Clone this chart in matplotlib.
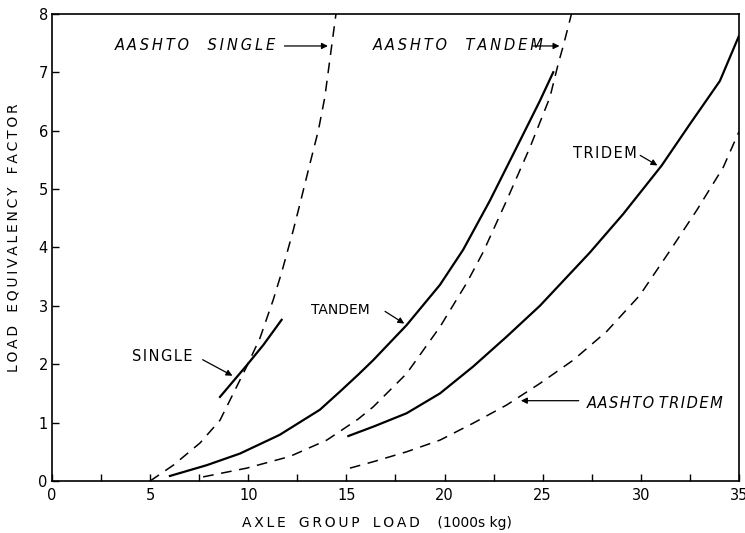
import matplotlib
matplotlib.use("Agg")
import matplotlib.pyplot as plt
from matplotlib.ticker import MultipleLocator

# curves (x = axle group load, 1000s kg; y = load equivalency factor)
single_x = [8.56, 9.92, 10.77, 11.7]
single_y = [1.44, 1.98, 2.33, 2.76]

aashto_single_x = [5.0, 6.18, 7.54, 8.56, 9.24, 9.92, 10.6, 11.27, 11.7, 12.29, 12.63, 13.14, 13.57, 13.9, 14.25, 14.47]
aashto_single_y = [0.0, 0.27, 0.65, 1.04, 1.5, 1.96, 2.45, 3.1, 3.57, 4.29, 4.74, 5.43, 6.0, 6.57, 7.45, 8.0]

tandem_x = [6.01, 7.88, 9.58, 11.6, 13.65, 14.67, 15.6, 16.37, 18.07, 19.77, 20.95, 22.31, 23.67, 24.86, 25.54]
tandem_y = [0.086, 0.27, 0.47, 0.79, 1.22, 1.53, 1.82, 2.07, 2.67, 3.36, 3.96, 4.8, 5.71, 6.51, 7.0]

aashto_tandem_x = [7.7, 9.92, 12.12, 14.0, 14.67, 15.6, 16.37, 18.07, 19.77, 21.13, 21.97, 23.16, 24.35, 25.37, 25.79, 26.05, 26.47]
aashto_tandem_y = [0.07, 0.22, 0.42, 0.7, 0.85, 1.06, 1.27, 1.84, 2.64, 3.39, 3.92, 4.8, 5.71, 6.57, 7.14, 7.45, 8.0]

tridem_x = [15.1, 16.37, 18.07, 19.77, 21.46, 23.16, 24.86, 27.4, 29.1, 31.06, 32.5, 34.03, 35.0]
tridem_y = [0.77, 0.93, 1.16, 1.5, 1.96, 2.47, 3.0, 3.91, 4.57, 5.4, 6.11, 6.85, 7.62]

aashto_tridem_x = [15.18, 16.37, 18.07, 19.77, 21.46, 23.16, 24.86, 26.56, 28.26, 29.95, 31.48, 32.84, 34.2, 35.0]
aashto_tridem_y = [0.22, 0.33, 0.5, 0.7, 0.99, 1.3, 1.67, 2.07, 2.56, 3.18, 3.94, 4.63, 5.37, 5.98]

x_ticks = [0, 5, 10, 15, 20, 25, 30, 35]
y_ticks = [0, 1, 2, 3, 4, 5, 6, 7, 8]


def spaced(word, sep="\u2009"):
    # letter-spaced lettering like the stencil text of the original
    return sep.join(word)


fig = plt.figure(figsize=(7.45, 5.33), dpi=100)
ax = fig.add_axes([0.0698, 0.0976, 0.922, 0.8764])

solid = dict(color="black", lw=1.6)
dashed = dict(color="black", lw=1.1, dashes=(7, 5))

ax.plot(single_x, single_y, **solid)
ax.plot(tandem_x, tandem_y, **solid)
ax.plot(tridem_x, tridem_y, **solid)
ax.plot(aashto_single_x, aashto_single_y, **dashed)
ax.plot(aashto_tandem_x, aashto_tandem_y, **dashed)
ax.plot(aashto_tridem_x, aashto_tridem_y, **dashed)

ax.set_xlim(0, 35)
ax.set_ylim(0, 8)
ax.set_xticks(x_ticks)
ax.set_yticks(y_ticks)
ax.xaxis.set_minor_locator(MultipleLocator(2.5))
ax.tick_params(direction="in", length=5, width=1, labelsize=10.5)
ax.tick_params(axis="x", which="minor", direction="in", length=5, width=1)
ax.tick_params(axis="y", pad=3)
ax.tick_params(axis="x", pad=5)
for s in ax.spines.values():
    s.set_linewidth(1.2)

ax.set_xlabel(spaced("AXLE") + "   " + spaced("GROUP") + "   " + spaced("LOAD") + "    (1000s kg)", fontsize=10)
ax.xaxis.set_label_coords(0.473, -0.075)
ax.set_ylabel(spaced("LOAD") + "   " + spaced("EQUIVALENCY") + "   " + spaced("FACTOR"), fontsize=10)
ax.yaxis.set_label_coords(-0.046, 0.52)

arrow = dict(arrowstyle="-|>", color="black", lw=0.9, mutation_scale=9)
txt = dict(fontsize=10.5, va="center")
it = dict(fontsize=10.5, va="center", style="italic")

ax.text(3.2, 7.45, spaced("AASHTO") + "    " + spaced("SINGLE"), ha="left", **it)
ax.annotate("", xy=(14.2, 7.45), xytext=(11.7, 7.45), arrowprops=arrow)

ax.text(16.35, 7.45, spaced("AASHTO") + "    " + spaced("TANDEM"), ha="left", **it)
ax.annotate("", xy=(26.0, 7.45), xytext=(24.35, 7.45), arrowprops=arrow)

ax.text(26.55, 5.6, spaced("TRIDEM", "\u200a"), ha="left", **txt)
ax.annotate("", xy=(30.97, 5.38), xytext=(29.85, 5.6), arrowprops=arrow)

ax.text(13.2, 2.93, "TANDEM", ha="left", fontsize=10, va="center")
ax.annotate("", xy=(18.07, 2.67), xytext=(16.85, 2.93), arrowprops=arrow)

ax.text(4.06, 2.13, spaced("SINGLE", "\u200a"), ha="left", **txt)
ax.annotate("", xy=(9.32, 1.78), xytext=(7.55, 2.1), arrowprops=arrow)

ax.text(27.24, 1.33, spaced("AASHTO", "\u200a") + " " + spaced("TRIDEM", "\u200a"), ha="left", **it)
ax.annotate("", xy=(23.75, 1.375), xytext=(26.98, 1.375), arrowprops=arrow)

fig.savefig("out.png", dpi=100)
